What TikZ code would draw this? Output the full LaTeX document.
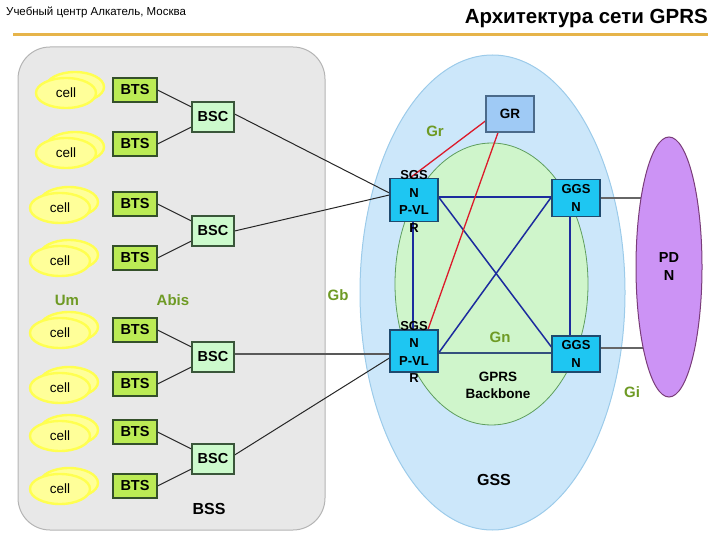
\documentclass[tikz,border=0pt]{standalone}
\usepackage{fontspec}
\setmainfont{Liberation Sans}
\usetikzlibrary{shapes.geometric}
\pgfdeclarelayer{back}
\pgfdeclarelayer{mid}
\pgfsetlayers{back,mid,main}
\definecolor{bssfill}{HTML}{E8E8E8}
\definecolor{bssline}{HTML}{B4B4B4}
\definecolor{gssfill}{HTML}{CCE7FA}
\definecolor{gssline}{HTML}{9CCBEA}
\definecolor{bbfill}{HTML}{CFF5CB}
\definecolor{bbline}{HTML}{5E9E5E}
\definecolor{pdnfill}{HTML}{CC93F5}
\definecolor{pdnline}{HTML}{7A3D7A}
\definecolor{netfill}{HTML}{1EC6F2}
\definecolor{netline}{HTML}{1F4A6E}
\definecolor{grfill}{HTML}{9FCAF5}
\definecolor{grline}{HTML}{4A6A8A}
\definecolor{btsfill}{HTML}{BBEB55}
\definecolor{btsline}{HTML}{34502A}
\definecolor{bscfill}{HTML}{CCFACC}
\definecolor{bscline}{HTML}{3A563A}
\definecolor{cellfill}{HTML}{FFFF99}
\definecolor{cellline}{HTML}{FFFF50}
\definecolor{lblgreen}{HTML}{6E9A24}
\definecolor{linkblue}{HTML}{1C2C9E}
\definecolor{linkslate}{HTML}{34507E}
\definecolor{linkred}{HTML}{DC1A2A}
\definecolor{barorange}{HTML}{E6B44A}
\begin{document}
\begin{tikzpicture}[x=1pt,y=-1pt,
  bts/.style={draw=btsline, fill=btsfill, line width=1.2pt, minimum width=44pt, minimum height=24pt, inner sep=0pt, font=\fontsize{14.5}{16}\selectfont\bfseries},
  bsc/.style={draw=bscline, fill=bscfill, line width=1.2pt, minimum width=42pt, minimum height=30pt, inner sep=0pt, font=\fontsize{14.5}{16}\selectfont\bfseries},
  cellshape/.style={ellipse, draw=cellline, fill=cellfill, line width=2.4pt, minimum width=60pt, minimum height=30pt, inner sep=0pt},
  celltext/.style={font=\fontsize{13.5}{15}\selectfont, inner sep=0pt},
  netbox/.style={draw=netline, fill=netfill, line width=1.2pt, minimum width=48pt, inner sep=0pt},
  nettext/.style={font=\fontsize{13}{17.5}\selectfont\bfseries, align=center, inner sep=0pt},
  lbl/.style={text=lblgreen, font=\fontsize{15}{17}\selectfont\bfseries, inner sep=0pt},
  big/.style={font=\fontsize{16}{19}\selectfont\bfseries, align=center, inner sep=0pt},
  bluelink/.style={draw=linkblue, line width=1.5pt},
  redlink/.style={draw=linkred, line width=1.3pt},
  blacklink/.style={draw=black!85, line width=1pt},
  graylink/.style={draw=black!60, line width=1.3pt}
]
\useasboundingbox (0,0) rectangle (720,540);
% header
\node[anchor=west, inner sep=0pt, font=\fontsize{11.5}{13}\selectfont] (hdr) at (6,12) {Учебный центр Алкатель, Москва};
\node[anchor=east, inner sep=0pt, font=\fontsize{20.5}{22}\selectfont\bfseries] (title) at (708,18) {Архитектура сети GPRS};
\draw[barorange, line width=3pt] (13,35) -- (708,35);

% background areas
\begin{pgfonlayer}{back}
\node[draw=bssline, fill=bssfill, line width=1pt, rounded corners=32pt, minimum width=307pt, minimum height=483pt, inner sep=0pt] (bss) at (171.5,288.5) {};
\node[ellipse, draw=gssline, fill=gssfill, line width=1pt, minimum width=265pt, minimum height=475pt, inner sep=0pt] (gss) at (492.5,292.5) {};
\node[ellipse, draw=bbline, fill=bbfill, line width=0.8pt, minimum width=193pt, minimum height=282pt, inner sep=0pt] (bb) at (491.5,284) {};
\end{pgfonlayer}

% PDN
\node[ellipse, draw=pdnline, fill=pdnfill, line width=1pt, minimum width=66pt, minimum height=260pt, inner sep=0pt] (pdn) at (669,267) {};
\node[big, font=\fontsize{14.5}{18}\selectfont\bfseries] (pdntext) at (669,267) {PD\\N};

% cells
\foreach \i/\cx/\cy in {1/66/93, 2/66/153, 3/60/208, 4/60/261, 5/60/333, 6/60/388, 7/60/436, 8/60/489} {
  \node[cellshape, minimum width=58pt] (cellb\i) at (\cx+9,\cy-6) {};
  \node[cellshape] (cell\i) at (\cx,\cy) {};
  \node[celltext] (cellt\i) at (\cx,\cy) {cell};
}

% BTS
\foreach \i/\y in {1/90, 2/144, 3/204, 4/258, 5/330, 6/384, 7/432, 8/486} {
  \node[bts] (bts\i) at (135,\y) {BTS};
}
% BSC
\foreach \i/\y in {1/117, 2/231, 3/357, 4/459} {
  \node[bsc] (bsc\i) at (213,\y) {BSC};
}

% core boxes
\node[draw=grline, fill=grfill, line width=1.2pt, minimum width=48pt, minimum height=36pt, inner sep=0pt, font=\fontsize{13.5}{15}\selectfont\bfseries] (gr) at (510,114) {GR};
\node[netbox, minimum height=43pt] (sgsn1) at (414,200) {};
\node[nettext] (sgsnt1) at (414,201.5) {SGS\\N\\P-VL\\R};
\node[netbox, minimum height=42pt] (sgsn2) at (414,351) {};
\node[nettext] (sgsnt2) at (414,352) {SGS\\N\\P-VL\\R};
\node[netbox, minimum height=37pt] (ggsn1) at (576,198) {};
\node[nettext] (ggsnt1) at (576,198) {GGS\\N};
\node[netbox, minimum height=36pt] (ggsn2) at (576,354) {};
\node[nettext] (ggsnt2) at (576,354) {GGS\\N};

\coordinate (g2out) at ([yshift=6pt]ggsn2.east);

% connectors
\begin{pgfonlayer}{mid}
\foreach \a/\b in {1/1, 3/2, 5/3, 7/4} {
  \draw[blacklink] (bts\a.east) -- ([yshift=10pt]bsc\b.west);
}
\foreach \a/\b in {2/1, 4/2, 6/3, 8/4} {
  \draw[blacklink] (bts\a.east) -- ([yshift=-10pt]bsc\b.west);
}
\draw[blacklink] ([yshift=3pt]bsc1.east) -- ([yshift=7pt]sgsn1.west);
\draw[blacklink] (bsc2.east) -- ([yshift=5pt]sgsn1.west);
\draw[draw=black!65, line width=1.3pt] ([yshift=3pt]bsc3.east) -- ([yshift=-3pt]sgsn2.west);
\draw[blacklink] ([yshift=4pt]bsc4.east) -- ([yshift=-7pt]sgsn2.west);

\draw[bluelink] ([yshift=3pt]sgsn1.east) -- ([yshift=1pt]ggsn1.west);
\draw[bluelink] ([yshift=3pt]sgsn1.east) -- ([yshift=7pt]ggsn2.west);
\draw[bluelink] ([yshift=1pt]ggsn1.west) -- ([yshift=-2pt]sgsn2.east);
\draw[bluelink] ([xshift=-1pt]sgsn1.south) -- ([xshift=-1pt]sgsn2.north);
\draw[bluelink] ([xshift=-6pt]ggsn1.south) -- ([xshift=-6pt]ggsn2.north);
\draw[draw=linkslate, line width=1.5pt] ([yshift=-2pt]sgsn2.east) -- ([yshift=1pt]ggsn2.west);

\draw[redlink] ([yshift=-7pt]gr.west) -- ([xshift=-4pt]sgsn1.north);
\draw[redlink] ([xshift=-12pt]gr.south) -- ([xshift=14pt]sgsn2.north);

\draw[graylink] (ggsn1.east) -- (pdn.center |- ggsn1.east);
\draw[graylink] (g2out) -- (pdn.center |- g2out);
\end{pgfonlayer}

% labels
\node[lbl] (lgr) at (435,131) {Gr};
\node[lbl] (lgb) at (338,295) {Gb};
\node[lbl] (lgn) at (500,337) {Gn};
\node[lbl] (lgi) at (632,392) {Gi};
\node[lbl] (lum) at (67,300) {Um};
\node[lbl] (labis) at (173,300) {Abis};
\node[big, font=\fontsize{13.5}{17}\selectfont\bfseries] (bbtext) at (498,385) {GPRS\\Backbone};
\node[big] (gsstext) at (494,480) {GSS};
\node[big] (bsstext) at (209,509) {BSS};
\end{tikzpicture}
\end{document}
